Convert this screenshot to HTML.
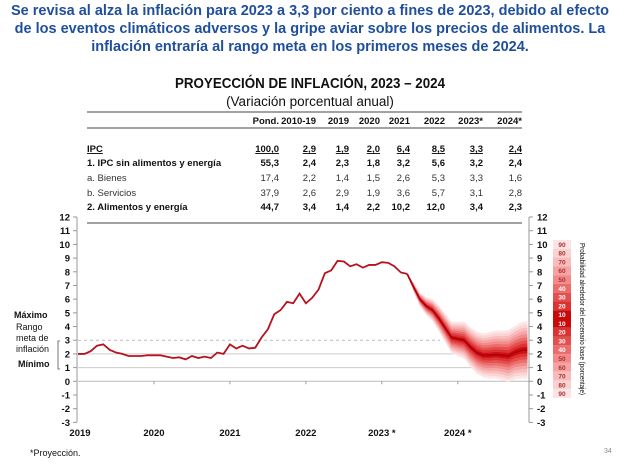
<!DOCTYPE html>
<html><head><meta charset="utf-8"><style>
body{margin:0;background:#fff;width:620px;height:460px;overflow:hidden;font-family:"Liberation Sans",sans-serif}
</style></head><body>
<svg width="620" height="460" viewBox="0 0 620 460" xmlns="http://www.w3.org/2000/svg" font-family="Liberation Sans, sans-serif">
<g fill="#1f4f9c" font-weight="bold" font-size="14.5" text-anchor="middle">
<text x="310" y="15">Se revisa al alza la inflación para 2023 a 3,3 por ciento a fines de 2023, debido al efecto</text>
<text x="310" y="33">de los eventos climáticos adversos y la gripe aviar sobre los precios de alimentos. La</text>
<text x="310" y="51">inflación entraría al rango meta en los primeros meses de 2024.</text>
</g>
<text x="310" y="88" text-anchor="middle" font-size="15" font-weight="bold" fill="#111" textLength="270" lengthAdjust="spacingAndGlyphs">PROYECCIÓN DE INFLACIÓN, 2023 – 2024</text>
<text x="310" y="106" text-anchor="middle" font-size="13.5" fill="#111">(Variación porcentual anual)</text>
<g id="table"></g>
<g id="chart"></g>
<g font-size="9" fill="#111">
<text x="14" y="318" font-weight="bold">Máximo</text>
<text x="16" y="330">Rango</text>
<text x="16" y="341">meta de</text>
<text x="16" y="352">inflación</text>
<text x="18" y="367" font-weight="bold">Mínimo</text>
<path d="M60 341 L58 341 L58 369 L60 369" fill="none" stroke="#555" stroke-width="0.8"/>
</g>
<text x="30" y="456" font-size="9" fill="#111">*Proyección.</text>
<text x="604" y="453" font-size="7" fill="#888">34</text>
<g id="legend"></g>
<text transform="translate(580,243) rotate(90)" font-size="7.5" fill="#111" textLength="152" lengthAdjust="spacingAndGlyphs">Probabilidad alrededor del escenario base (porcentaje)</text>
</svg>
<script>
// ---- table data ----
const tableHeaders = ["Pond.","2010-19","2019","2020","2021","2022","2023*","2024*"];
const tableRowLabels = ["IPC","1. IPC sin alimentos y energía","a. Bienes","b. Servicios","2. Alimentos y energía"];
const tableRowValues = [
 ["100,0","2,9","1,9","2,0","6,4","8,5","3,3","2,4"],
 ["55,3","2,4","2,3","1,8","3,2","5,6","3,2","2,4"],
 ["17,4","2,2","1,4","1,5","2,6","5,3","3,3","1,6"],
 ["37,9","2,6","2,9","1,9","3,6","5,7","3,1","2,8"],
 ["44,7","3,4","1,4","2,2","10,2","12,0","3,4","2,3"]
];
// ---- chart data (monthly, Jan 2019 onward) ----
const historical = [2.0,2.0,2.2,2.6,2.7,2.3,2.1,2.0,1.85,1.85,1.85,1.9,
 1.9,1.9,1.8,1.7,1.75,1.6,1.85,1.7,1.8,1.7,2.1,2.0,
 2.7,2.4,2.6,2.4,2.45,3.2,3.8,4.9,5.2,5.8,5.7,6.4,
 5.7,6.1,6.7,7.9,8.1,8.8,8.75,8.4,8.55,8.3,8.5,8.5,
 8.7,8.65,8.4,7.95,7.85];
const forecast = [7.85,6.9,6.0,5.5,5.2,4.6,3.9,3.2,3.1,3.0,2.5,2.1,1.9,1.9,1.95,1.9,1.85,2.1,2.25,2.3];
const fanHalfWidth90 = [0,0.35,0.5,0.65,0.8,0.95,1.05,1.15,1.25,1.35,1.45,1.55,1.6,1.7,1.75,1.8,1.9,1.95,2.05,2.1];
const yTicks = [-3,-2,-1,0,1,2,3,4,5,6,7,8,9,10,11,12];
const xYears = ["2019","2020","2021","2022","2023","2024"];
const legendLevels = [90,80,70,60,50,40,30,20,10,10,20,30,40,50,60,70,80,90];

const NS="http://www.w3.org/2000/svg";
function mk(tag,attrs,parent,text){const e=document.createElementNS(NS,tag);for(const k in attrs)e.setAttribute(k,attrs[k]);if(text!==undefined)e.textContent=text;parent.appendChild(e);return e;}

// table
const tg=document.getElementById('table');
const colX=[279,316,349,380,410,445,483,522];
mk('line',{x1:87,x2:522,y1:112,y2:112,stroke:'#444','stroke-width':1},tg);
mk('line',{x1:87,x2:522,y1:128,y2:128,stroke:'#444','stroke-width':1},tg);
mk('line',{x1:87,x2:522,y1:223,y2:223,stroke:'#444','stroke-width':1},tg);
tableHeaders.forEach((h,i)=>{
 const t=mk('text',{x:colX[i],y:124,'text-anchor':'end','font-size':9.5,'font-weight':'bold',fill:'#111'},tg,h);
 
 
});
const rowY=[152,166,181,196,210];
tableRowLabels.forEach((l,r)=>{
 const bold = r===0||r===1||r===4;
 const lab=mk('text',{x:87,y:rowY[r],'font-size':9.5,'font-weight':bold?'bold':'normal',fill:r===2||r===3?'#333':'#111','text-decoration':r===0?'underline':'none'},tg,l);
 
 
 tableRowValues[r].forEach((v,i)=>{
  const c=mk('text',{x:colX[i],y:rowY[r],'text-anchor':'end','font-size':9.5,'font-weight':bold?'bold':'normal',fill:r===2||r===3?'#333':'#111','text-decoration':r===0?'underline':'none'},tg,v);
  
  
 });
});

// chart
const g=document.getElementById('chart');
const X0=78, PXM=6.33, Y0=381.3, PXU=13.69;
const xs=i=>X0+i*PXM, ys=v=>Y0-v*PXU;
[1,2].forEach(v=>{const l=mk('line',{x1:78,x2:529,y1:ys(v),y2:ys(v),stroke:'#ccc','stroke-width':1},g);});
const d3l=mk('line',{x1:78,x2:440,y1:ys(3),y2:ys(3),stroke:'#bbb','stroke-width':1,'stroke-dasharray':'3,3'},g);


const zl=mk('line',{x1:78,x2:529,y1:ys(0),y2:ys(0),stroke:'#bbb','stroke-width':1},g);


mk('line',{x1:77,x2:77,y1:ys(12),y2:ys(-3),stroke:'#999'},g);
mk('line',{x1:529,x2:529,y1:ys(12),y2:ys(-3),stroke:'#999'},g);
yTicks.forEach(v=>{
 mk('line',{x1:73,x2:77,y1:ys(v),y2:ys(v),stroke:'#999'},g);
 mk('line',{x1:529,x2:533,y1:ys(v),y2:ys(v),stroke:'#999'},g);
 const a=mk('text',{x:70,y:ys(v)+3.5,'text-anchor':'end','font-size':9.5,'font-weight':'bold',fill:'#111'},g,String(v));
 
 
 const b=mk('text',{x:537,y:ys(v)+3.5,'font-size':9.5,'font-weight':'bold',fill:'#111'},g,String(v));
 
 
});
xYears.forEach((y,i)=>{
 const x=X0+i*12*PXM;
 if(i>0) mk('line',{x1:x,x2:x,y1:ys(0),y2:ys(0)+3,stroke:'#999'},g);
 const t=mk('text',{x:i===0?80:x,y:436,'text-anchor':'middle','font-size':9.5,'font-weight':'bold',fill:'#111'},g,y+(i>=4?' *':''));
 
 
});
// fan
const fStart=historical.length-1;
const bandColors=['#fde6e6','#fbd4d4','#f8bebe','#f5a6a6','#f18c8c','#ec6e6e','#e54f4f','#dc3232','#cc1010'];
for(let k=9;k>=1;k--){
 const up=[],dn=[];
 forecast.forEach((v,j)=>{const w=fanHalfWidth90[j]*k/9;up.push([xs(fStart+j),ys(v+w)]);dn.push([xs(fStart+j),ys(v-w)]);});
 const pts=up.concat(dn.reverse()).map(p=>p.join(',')).join(' ');
 const p=mk('polygon',{points:pts,fill:bandColors[9-k]},g);
 
 
}
const hl=mk('polyline',{points:historical.map((v,i)=>xs(i)+','+ys(v)).join(' '),fill:'none',stroke:'#b5141e','stroke-width':1.8},g);


const fl=mk('polyline',{points:forecast.map((v,j)=>xs(fStart+j)+','+ys(v)).join(' '),fill:'none',stroke:'#b00010','stroke-width':1.8},g);



// legend
const lg=document.getElementById('legend');
const colorFor={90:'#fde4e4',80:'#fbd2d2',70:'#f8bcbc',60:'#f5a3a3',50:'#f18a8a',40:'#ec6c6c',30:'#e54e4e',20:'#dc3232',10:'#c80a0a'};
const bh=(398-240)/legendLevels.length;
legendLevels.forEach((v,i)=>{
 const r=mk('rect',{x:553,y:240+i*bh,width:18,height:bh,fill:colorFor[v]},lg);
 
 
 const t=mk('text',{x:562,y:240+i*bh+bh/2+2.5,'text-anchor':'middle','font-size':6.5,'font-weight':'bold',fill:v<=40?'#fff':'#a33'},lg,String(v));
 
 
});
</script>
</body></html>
